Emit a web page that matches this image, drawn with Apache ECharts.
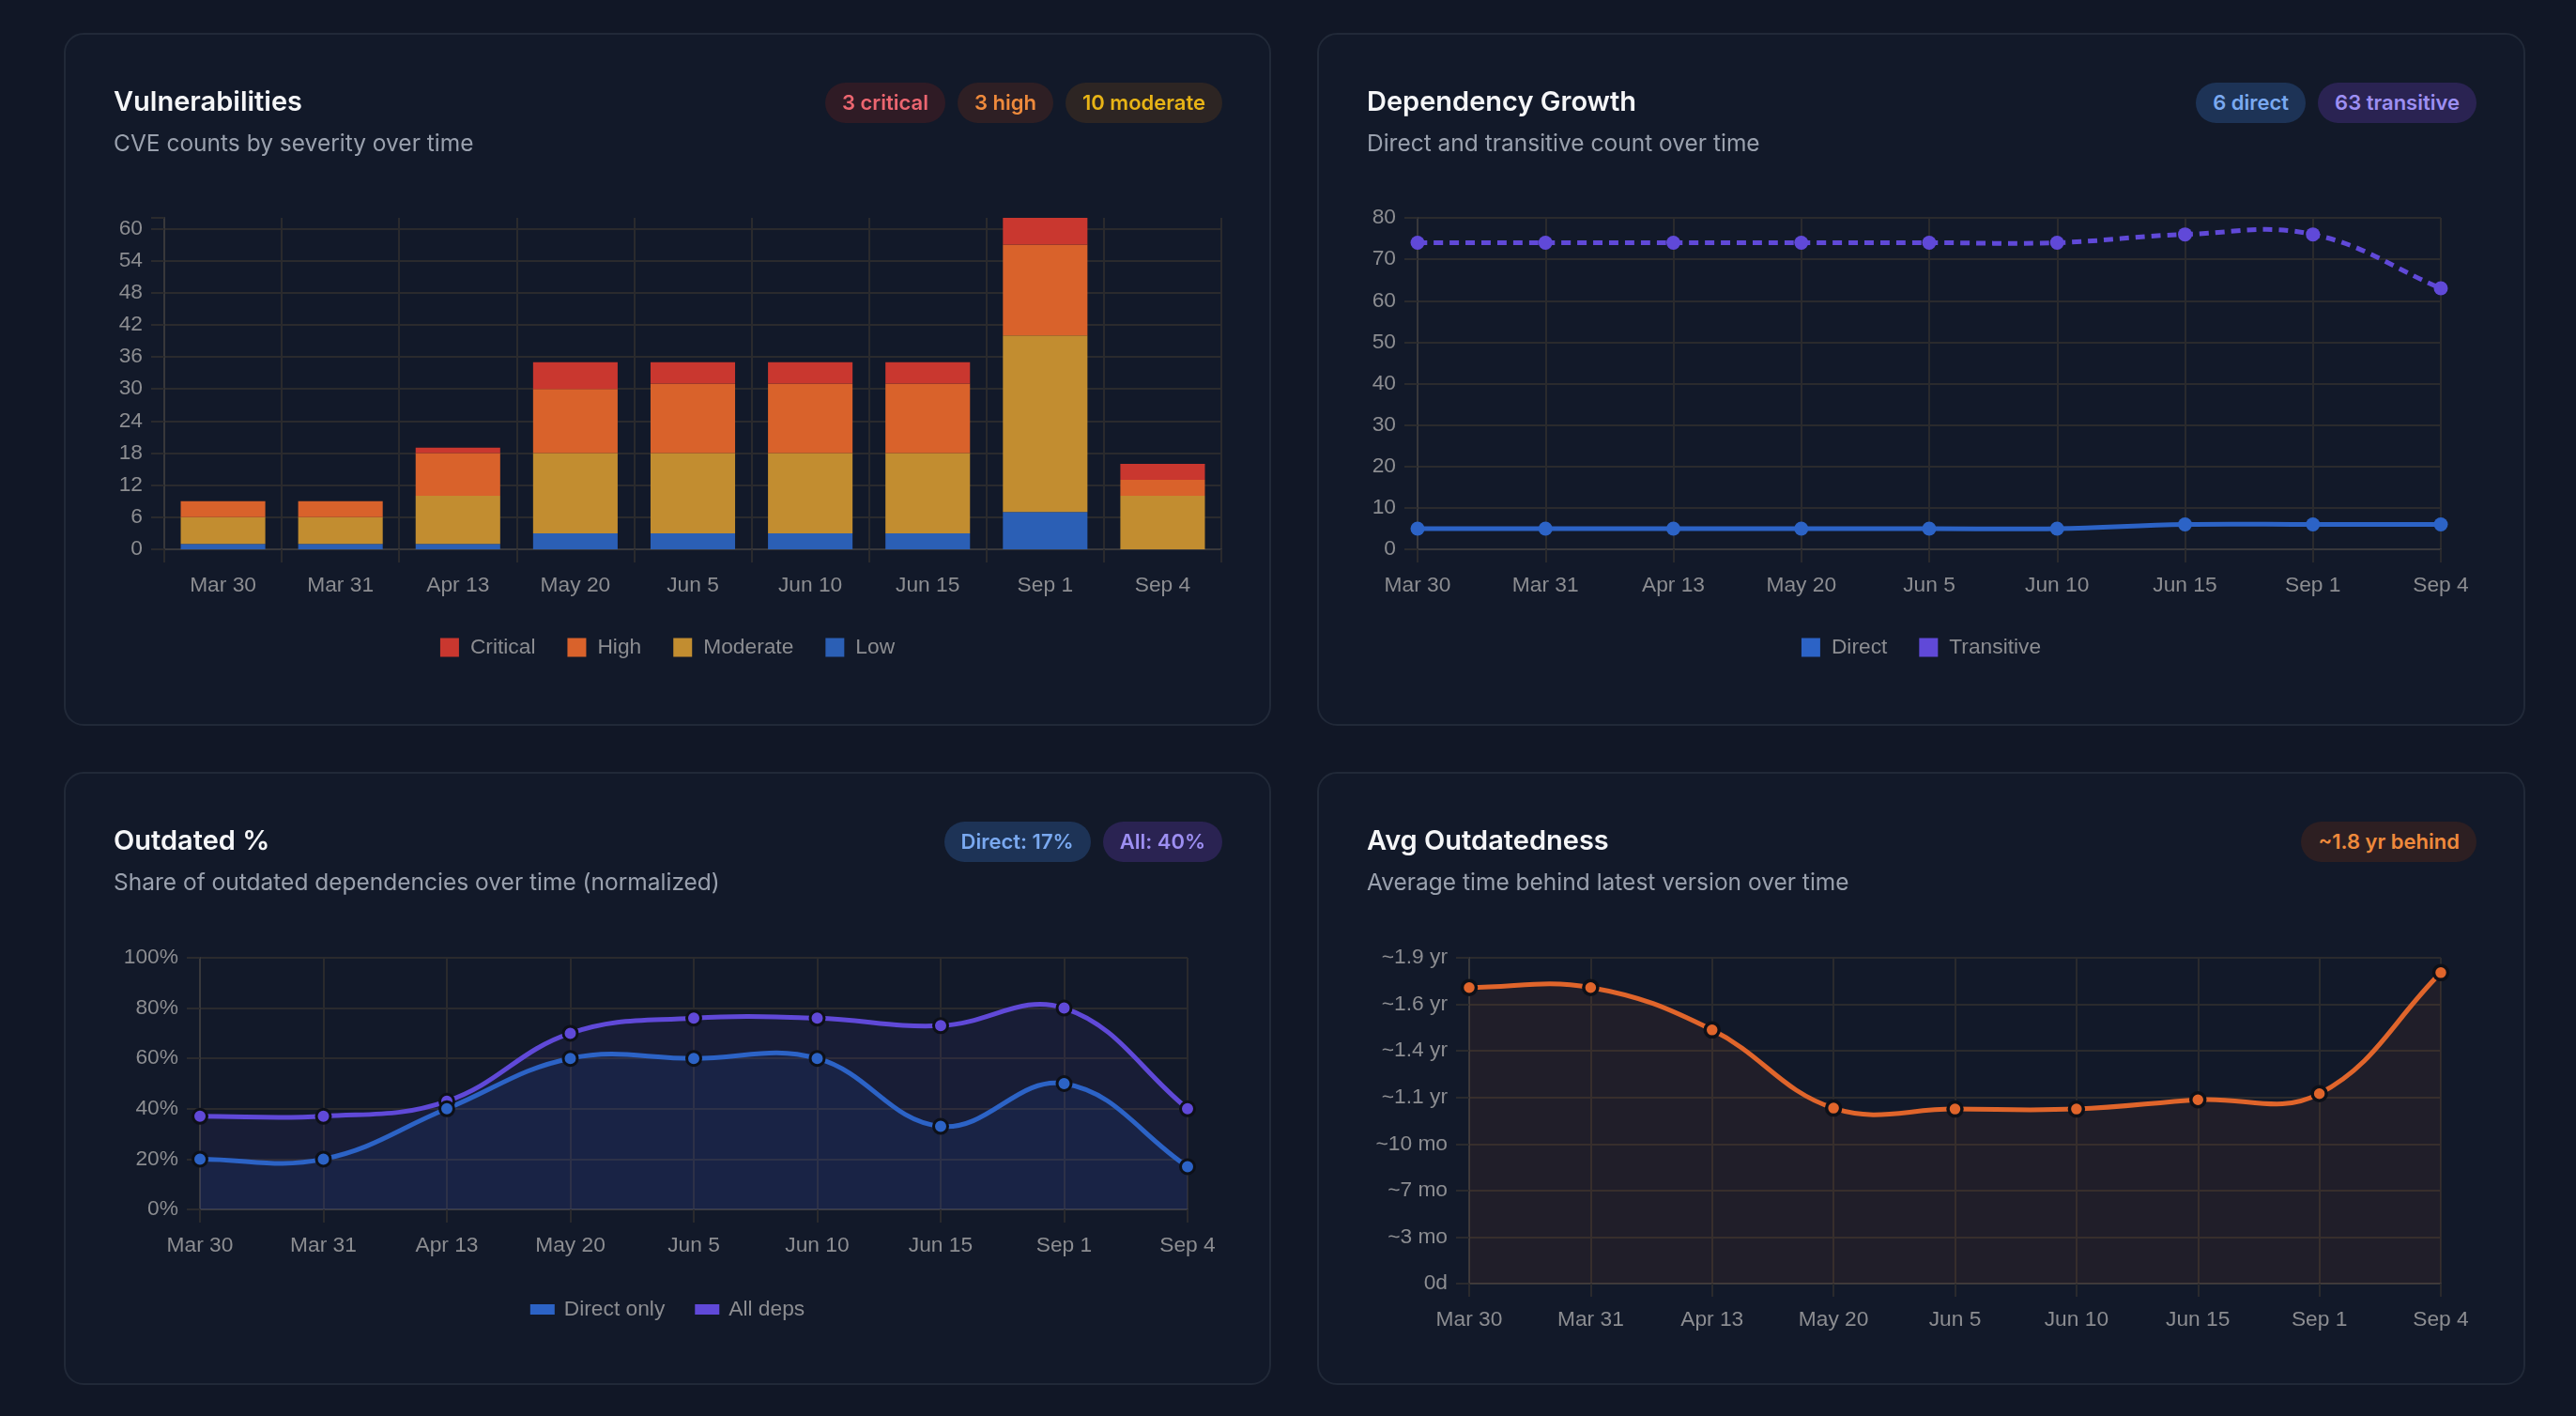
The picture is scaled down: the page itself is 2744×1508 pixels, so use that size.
<!DOCTYPE html>
<html>
<head>
<meta charset="utf-8">
<script src="https://cdn.jsdelivr.net/npm/echarts@6/dist/echarts.min.js"></script>
<style>
html,body{margin:0;padding:0;background:#111726;width:2744px;height:1508px;overflow:hidden;}
.card{position:absolute;box-sizing:border-box;border:2px solid #212938;border-radius:21px;background:#121929;}
.frame{position:absolute;left:-2px;top:-2px;}
.chart{position:absolute;left:0;top:0;}
.title{position:absolute;left:53px;top:58px;font:600 29px/29px Inter,sans-serif;color:#f5f6f8;white-space:nowrap;z-index:2;}
.sub{position:absolute;left:53px;top:105px;font:400 24.5px/24px Inter,sans-serif;color:#9aa1ae;white-space:nowrap;z-index:2;}
.badges{position:absolute;right:52px;top:53px;display:flex;gap:13px;z-index:2;}
.badge{height:43px;padding:0 18px;border-radius:22px;font:600 22px/43px Inter,sans-serif;white-space:nowrap;}
</style>
</head>
<body>
<script>
// ---------- data ----------
const categories = ['Mar 30','Mar 31','Apr 13','May 20','Jun 5','Jun 10','Jun 15','Sep 1','Sep 4'];
const vulnLow      = [1, 1, 1, 3, 3, 3, 3, 7, 0];
const vulnModerate = [5, 5, 9, 15, 15, 15, 15, 33, 10];
const vulnHigh     = [3, 3, 8, 12, 13, 13, 13, 17, 3];
const vulnCritical = [0, 0, 1, 5, 4, 4, 4, 5, 3];
const depDirect     = [5, 5, 5, 5, 5, 5, 6, 6, 6];
const depTransitive = [74, 74, 74, 74, 74, 74, 76, 76, 63];
const outdatedDirect = [20, 20, 40, 60, 60, 60, 33, 50, 17];
const outdatedAll    = [37, 37, 43, 70, 76, 76, 73, 80, 40];
const avgOutdatedDays = [636, 636, 545, 377, 375, 375, 395, 408, 668];
const ageTickLabels = ['0d','~3 mo','~7 mo','~10 mo','~1.1 yr','~1.4 yr','~1.6 yr','~1.9 yr'];
const ageBehindLabel = '~1.8 yr behind';

// ---------- style ----------
const C = {
  critical:'#c9372f', high:'#d9622b', moderate:'#c28d30', low:'#2b5fb5',
  direct:'#2c63c6', transitive:'#6049d8', orange:'#e0652b',
  grid:'#2a2a2d', axis:'#38383b', label:'#8c8d91', dotBorder:'#0d1018'
};
const FONT = '"Liberation Sans", Arial, sans-serif';
const FS = 22.75;
const TENSION = 0.4;

const cards = [
  {id:'vuln', left:68, top:35, w:1286, h:738, title:'Vulnerabilities', sub:'CVE counts by severity over time',
   badges:[[vulnCritical[8]+' critical','#2f1b25','#ec6670'],[vulnHigh[8]+' high','#2e1f24','#ef8a3c'],[vulnModerate[8]+' moderate','#2d2523','#e8b416']]},
  {id:'deps', left:1403, top:35, w:1287, h:738, title:'Dependency Growth', sub:'Direct and transitive count over time',
   badges:[[depDirect[8]+' direct','#1d3356','#7aa9f0'],[depTransitive[8]+' transitive','#2a2352','#9d8ff2']]},
  {id:'out', left:68, top:822, w:1286, h:653, title:'Outdated %', sub:'Share of outdated dependencies over time (normalized)',
   badges:[['Direct: '+outdatedDirect[8]+'%','#1d3356','#7aa9f0'],['All: '+outdatedAll[8]+'%','#2a2352','#9d8ff2']]},
  {id:'age', left:1403, top:822, w:1287, h:653, title:'Avg Outdatedness', sub:'Average time behind latest version over time',
   badges:[[ageBehindLabel,'#2d1f22','#ef8a3c']]}
];

const charts = {};
cards.forEach(c => {
  const card = document.createElement('div');
  card.className = 'card';
  Object.assign(card.style, {left:c.left+'px', top:c.top+'px', width:c.w+'px', height:c.h+'px'});
  const frame = document.createElement('div');
  frame.className = 'frame';
  Object.assign(frame.style, {width:c.w+'px', height:c.h+'px'});
  const t = document.createElement('div'); t.className='title'; t.textContent=c.title; frame.appendChild(t);
  const s = document.createElement('div'); s.className='sub'; s.textContent=c.sub; frame.appendChild(s);
  const b = document.createElement('div'); b.className='badges';
  c.badges.forEach(([txt,bg,fg]) => {
    const e = document.createElement('div'); e.className='badge'; e.textContent=txt;
    e.style.background=bg; e.style.color=fg; b.appendChild(e);
  });
  frame.appendChild(b);
  const ch = document.createElement('div'); ch.className='chart';
  Object.assign(ch.style, {width:c.w+'px', height:c.h+'px'});
  frame.appendChild(ch);
  card.appendChild(frame);
  document.body.appendChild(card);
  charts[c.id] = echarts.init(ch, null, {renderer:'canvas'});
});

const txt = {color:C.label, fontSize:FS, fontFamily:FONT};
function xCat(boundaryGap){
  return {type:'category', data:categories, boundaryGap:boundaryGap,
    axisLine:{show:true, lineStyle:{color:C.axis, width:2}},
    axisTick:{show:true, length:14, alignWithLabel:!boundaryGap, lineStyle:{color:C.grid, width:2}},
    axisLabel:Object.assign({margin:27, interval:0}, txt),
    splitLine:{show:true, lineStyle:{color:C.grid, width:2}}};
}
function yVal(min,max,interval,formatter,splitColors){
  return {type:'value', min:min, max:max, interval:interval,
    axisLine:{show:true, lineStyle:{color:C.axis, width:2}},
    axisTick:{show:true, length:14, lineStyle:{color:C.grid, width:2}},
    axisLabel:Object.assign({margin:23, formatter:formatter}, txt),
    splitLine:{show:true, lineStyle:{color:splitColors || C.grid, width:2}}};
}
function legend(names, top, w, h, gap, textPad){
  return {data:names, left:'center', top:top, icon:'rect', itemWidth:w, itemHeight:h, itemGap:gap, padding:0,
    itemStyle:{borderWidth:0},
    textStyle:Object.assign({padding:[0,0,0,textPad]}, txt)};
}

// Curve drawn with a tension spline through points placed by the chart's own axes (api.coord)
function curve(values, color, width, dash, fill, yMin, yMax){
  return {type:'custom', data:[0], silent:true, z:2,
    renderItem: function(params, api){
      const pts = values.map((v, k) => api.coord([k, v]));
      const top = api.coord([0, yMax])[1], bottom = api.coord([0, yMin])[1];
      const clampY = y => Math.min(Math.max(y, top), bottom);
      const n = pts.length;
      const cps = pts.map((p, k) => {
        const prev = pts[k-1] || p, next = pts[k+1] || p;
        const d01 = Math.hypot(p[0]-prev[0], p[1]-prev[1]);
        const d12 = Math.hypot(next[0]-p[0], next[1]-p[1]);
        let s01 = d01/(d01+d12), s12 = d12/(d01+d12);
        if (isNaN(s01)) s01 = 0;
        if (isNaN(s12)) s12 = 0;
        const fa = TENSION*s01, fb = TENSION*s12;
        return {
          prev:[p[0]-fa*(next[0]-prev[0]), clampY(p[1]-fa*(next[1]-prev[1]))],
          next:[p[0]+fb*(next[0]-prev[0]), clampY(p[1]+fb*(next[1]-prev[1]))]
        };
      });
      let d = 'M' + pts[0][0] + ' ' + pts[0][1];
      for (let k = 1; k < n; k++) {
        d += ' C' + cps[k-1].next[0] + ' ' + cps[k-1].next[1] + ' ' + cps[k].prev[0] + ' ' + cps[k].prev[1] + ' ' + pts[k][0] + ' ' + pts[k][1];
      }
      const children = [];
      if (fill) {
        children.push({type:'path', shape:{pathData: d + ' L' + pts[n-1][0] + ' ' + bottom + ' L' + pts[0][0] + ' ' + bottom + ' Z'},
          style:{fill:fill, stroke:null}});
      }
      children.push({type:'path', shape:{pathData:d},
        style:{fill:null, stroke:color, lineWidth:width, lineDash:dash || null, lineJoin:'round'}});
      return {type:'group', children:children};
    }};
}
function dots(name, values, color, border){
  return {name:name, type:'line', data:values, symbol:'circle', symbolSize:15, showSymbol:true, z:3,
    lineStyle:{width:0, opacity:0},
    itemStyle:border ? {color:color, borderColor:C.dotBorder, borderWidth:border} : {color:color}};
}

// ---------- Vulnerabilities ----------
const vulnTotals = categories.map((_, i) => vulnLow[i] + vulnModerate[i] + vulnHigh[i] + vulnCritical[i]);
const vulnMax = Math.max(...vulnTotals);
const vulnSplit = [];
for (let v = 0; v <= vulnMax; v += 6) vulnSplit.push(C.grid);
if (vulnMax % 6) vulnSplit.push('rgba(0,0,0,0)');
function bar(name, data, color){
  return {name:name, type:'bar', stack:'sev', data:data, barWidth:'72%', itemStyle:{color:color}};
}
charts.vuln.setOption({
  animation:false,
  grid:{left:107, right:53, top:197, bottom:188},
  legend:legend(['Critical','High','Moderate','Low'], 643, 20, 20, 34, 7),
  xAxis:xCat(true),
  yAxis:yVal(0, vulnMax, 6, v => (v % 6 === 0 ? String(v) : ''), vulnSplit),
  series:[bar('Low', vulnLow, C.low), bar('Moderate', vulnModerate, C.moderate), bar('High', vulnHigh, C.high), bar('Critical', vulnCritical, C.critical)]
});

// ---------- Dependency Growth ----------
charts.deps.setOption({
  animation:false,
  grid:{left:107, right:90, top:197, bottom:188},
  legend:legend(['Direct','Transitive'], 643, 20, 20, 34, 7),
  xAxis:xCat(false),
  yAxis:yVal(0, 80, 10, '{value}'),
  series:[
    curve(depDirect, C.direct, 5, null, null, 0, 80),
    curve(depTransitive, C.transitive, 5, [10,7], null, 0, 80),
    dots('Direct', depDirect, C.direct, 0),
    dots('Transitive', depTransitive, C.transitive, 0)
  ]
});

// ---------- Outdated % ----------
charts.out.setOption({
  animation:false,
  grid:{left:145, right:89, top:198, bottom:187},
  legend:legend(['Direct only','All deps'], 561, 26, 11, 32, 5),
  xAxis:xCat(false),
  yAxis:yVal(0, 100, 20, '{value}%'),
  series:[
    curve(outdatedAll, C.transitive, 5, null, 'rgba(96,73,216,0.08)', 0, 100),
    curve(outdatedDirect, C.direct, 5, null, 'rgba(44,99,198,0.10)', 0, 100),
    dots('All deps', outdatedAll, C.transitive, 3),
    dots('Direct only', outdatedDirect, C.direct, 3)
  ]
});

// ---------- Avg Outdatedness ----------
charts.age.setOption({
  animation:false,
  grid:{left:162, right:90, top:198, bottom:108},
  xAxis:xCat(false),
  yAxis:yVal(0, 700, 100, v => ageTickLabels[Math.round(v / 100)] || ''),
  series:[
    curve(avgOutdatedDays, C.orange, 5, null, 'rgba(224,101,43,0.07)', 0, 700),
    dots('Avg outdatedness', avgOutdatedDays, C.orange, 3.5)
  ]
});
</script>
</body>
</html>
